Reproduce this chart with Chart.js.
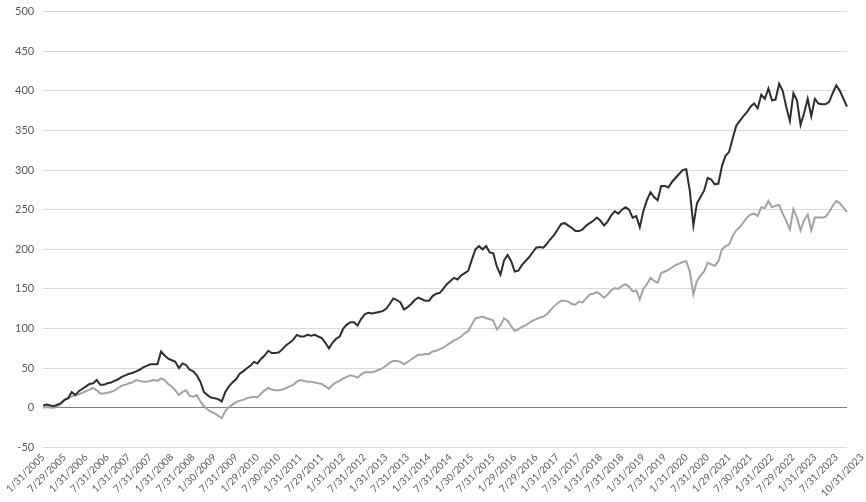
<!DOCTYPE html>
<html><head><meta charset="utf-8">
<script src="https://cdn.jsdelivr.net/npm/chart.js@4"></script>
<style>html,body{margin:0;padding:0;background:#fff;overflow:hidden}canvas{display:block;margin-top:-4px}</style>
</head><body>
<canvas id="c" width="866" height="506"></canvas>
<script>
const tickLabels = ['1/31/2005','7/29/2005','1/31/2006','7/31/2006','1/31/2007','7/31/2007','1/31/2008','7/31/2008','1/30/2009','7/31/2009','1/29/2010','7/30/2010','1/31/2011','7/29/2011','1/31/2012','7/31/2012','1/31/2013','7/31/2013','1/31/2014','7/31/2014','1/30/2015','7/31/2015','1/29/2016','7/29/2016','1/31/2017','7/31/2017','1/31/2018','7/31/2018','1/31/2019','7/31/2019','1/31/2020','7/31/2020','1/29/2021','7/30/2021','1/31/2022','7/29/2022','1/31/2023','7/31/2023','10/31/2023'];

const darkSeries = [
3,4,3,2,4,6,10,12,20,16,21,24,
27,30,31,35,29,29,31,32,34,36,39,41,
43,44,46,48,51,53,55,55,55,71,66,62,
60,58,50,56,54,48,46,41,33,20,16,13,
12,11,8,20,27,32,36,43,46,50,53,58,
56,62,66,72,69,69,70,74,79,82,86,92,
90,90,92,91,92,90,88,82,75,82,87,90,
100,105,108,108,104,112,118,120,119,120,121,122,
125,131,138,136,133,124,127,131,136,139,137,135,
135,141,144,145,150,156,160,164,162,167,170,173,
187,200,204,200,204,196,195,178,168,186,193,185,
172,173,180,185,190,196,202,203,202,207,213,218,
225,232,233,230,227,223,223,225,230,233,236,240,
236,230,235,243,248,245,250,253,250,240,242,228,
248,262,272,266,262,280,280,278,285,290,295,300,
301,274,230,258,266,274,290,288,282,283,305,318,
323,340,356,362,368,373,380,384,378,395,390,403,
388,389,409,400,380,362,397,388,357,372,390,368,
390,384,383,383,386,397,407,400,390,380
];

const graySeries = [
0,1,0,0,2,5,10,12,14,16,17,19,
21,23,25,22,18,18,19,20,22,25,28,29,
31,32,35,34,33,33,34,35,34,37,35,30,
27,22,16,20,22,15,14,16,8,2,-2,-5,
-7,-10,-13,-4,1,4,7,9,10,12,13,14,
13,18,22,25,23,22,22,23,25,27,29,33,
35,34,33,33,32,31,30,27,24,29,32,34,
37,39,41,40,38,42,45,45,45,46,48,50,
53,57,59,59,58,55,58,61,64,67,67,68,
68,71,72,74,76,79,82,85,87,90,94,97,
105,113,114,115,113,112,110,99,104,113,110,103,
97,99,102,104,107,110,112,114,115,118,123,128,
132,135,135,134,131,130,134,133,138,143,144,146,
143,139,143,148,151,150,154,156,153,147,148,137,
150,156,164,160,158,170,172,174,177,180,182,184,
185,172,143,160,167,172,183,181,179,185,200,204,
206,217,224,228,234,240,244,245,242,253,252,261,
253,255,256,245,236,225,251,240,224,237,244,224,
240,240,240,241,247,255,261,258,253,247
];

const yTicks = { min: -50, max: 500, step: 50 };

const categories = [];
for (let i = 0; i < darkSeries.length; i++) {
  categories.push((i % 12 + 1) + '/' + (2005 + Math.floor(i / 12)));
}
const lastIdx = categories.length - 1;

const FONT = 'Lato, "Open Sans", sans-serif';
const xTickFont = { family: FONT, size: 10 };

new Chart(document.getElementById('c'), {
  type: 'line',
  data: {
    labels: categories,
    datasets: [
      { data: darkSeries, borderColor: '#2e2e2e', borderWidth: 2, pointRadius: 0, tension: 0, fill: false },
      { data: graySeries, borderColor: '#a3a3a3', borderWidth: 2, pointRadius: 0, tension: 0, fill: false }
    ]
  },
  options: {
    responsive: false,
    animation: false,
    devicePixelRatio: 1,
    layout: { padding: { left: 6, right: 19, top: 0, bottom: 3 } },
    plugins: { legend: { display: false }, tooltip: { enabled: false } },
    scales: {
      x: {
        grid: { display: false, drawTicks: false },
        border: { display: false },
        ticks: {
          autoSkip: false,
          minRotation: 45,
          maxRotation: 45,
          padding: 4,
          color: '#595959',
          font: xTickFont,
          callback: function (v, i) {
            if (i % 6 === 0) return tickLabels[i / 6];
            return '';
          }
        }
      },
      x2: {
        type: 'category',
        position: { y: yTicks.min },
        grid: { display: false, drawTicks: false },
        border: { display: false },
        ticks: {
          autoSkip: false,
          minRotation: 45,
          maxRotation: 45,
          padding: 4,
          labelOffset: 15,
          color: '#595959',
          font: xTickFont,
          callback: function (v, i) {
            return i === lastIdx ? tickLabels[tickLabels.length - 1] : '';
          }
        }
      },
      y: {
        min: yTicks.min,
        max: yTicks.max,
        border: { display: false },
        grid: {
          drawTicks: false,
          color: ctx => (ctx.tick && ctx.tick.value === 0) ? '#7f7f7f' : '#d9d9d9',
          lineWidth: 1
        },
        ticks: {
          stepSize: yTicks.step,
          padding: 9,
          color: '#595959',
          font: { family: FONT, size: 11 }
        }
      }
    }
  }
});
</script>
</body></html>
